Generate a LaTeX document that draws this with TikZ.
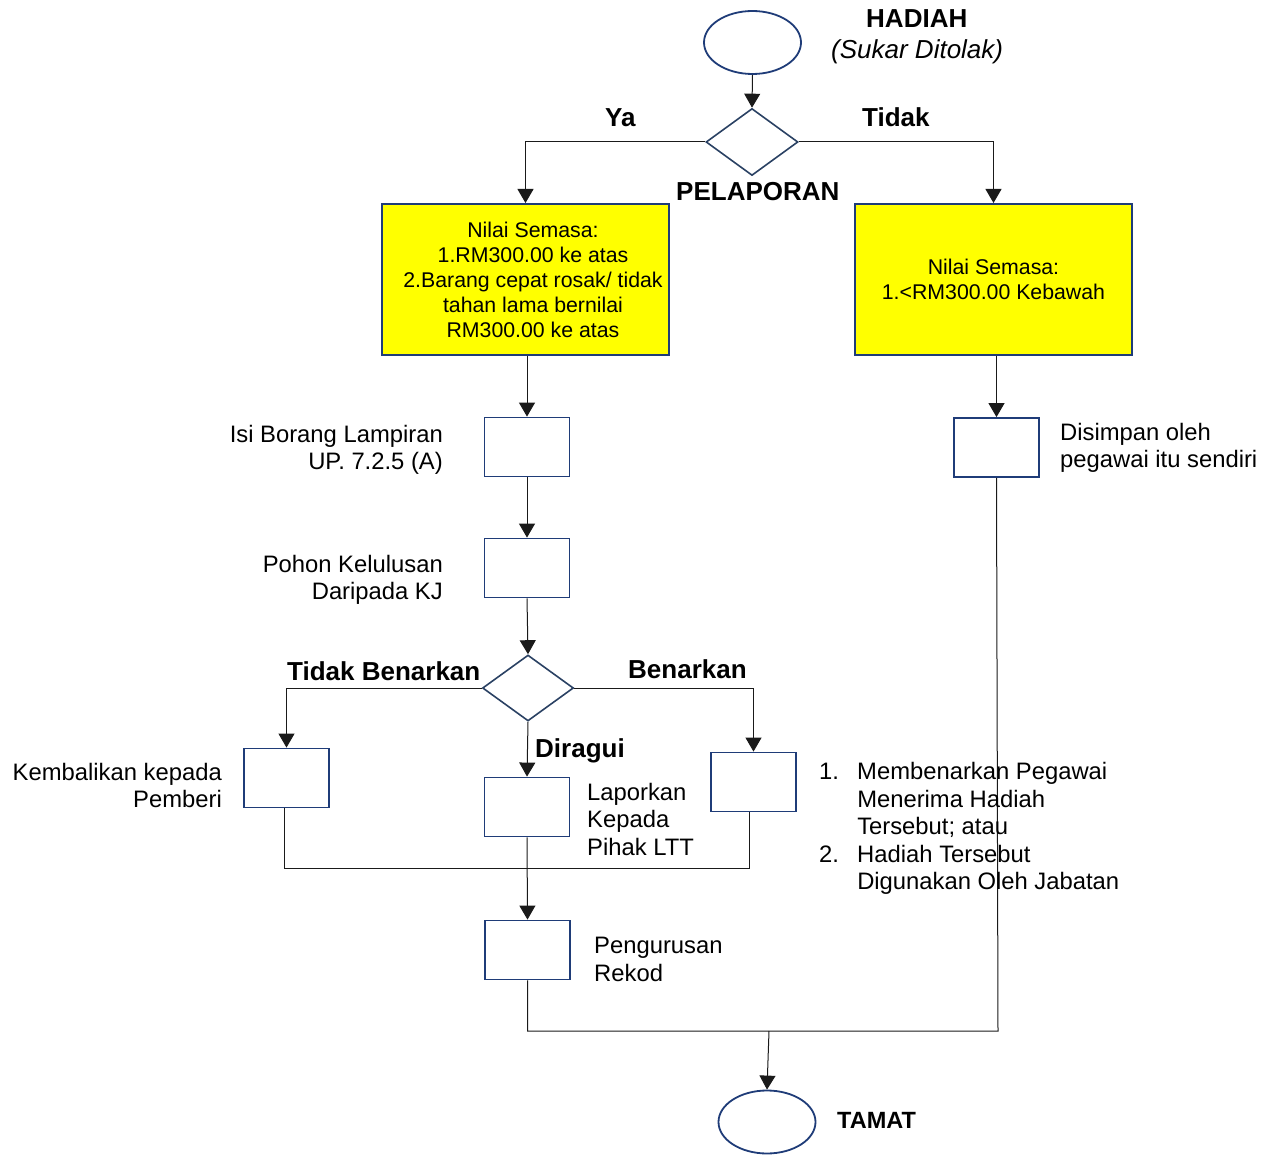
\documentclass[tikz,border=0pt]{standalone}
\usepackage{fontspec}
\setmainfont{Liberation Sans}
\usetikzlibrary{arrows.meta,shapes.geometric}
\definecolor{boxblue}{HTML}{1F3C78}
\definecolor{diablue}{HTML}{2A4163}
\definecolor{linegray}{HTML}{1A1A1A}
\definecolor{yel}{HTML}{FFFF00}
\begin{document}
\begin{tikzpicture}[x=1pt,y=-1pt,
  procbox/.style={draw=boxblue, line width=1.8pt, minimum width=85pt, minimum height=59pt, inner sep=0pt, fill=white},
  yellowbox/.style={draw=boxblue, line width=2pt, fill=yel, inner sep=0pt, align=center, font=\fontsize{21.3}{25}\selectfont},
  yeltext/.style={inner sep=0pt, align=center, font=\fontsize{21.3}{25}\selectfont},
  term/.style={ellipse, draw=boxblue, line width=1.8pt, minimum width=97pt, minimum height=63pt, inner sep=0pt},
  decision/.style={diamond, draw=diablue, line width=1.6pt, inner sep=0pt},
  conn/.style={draw=linegray, line width=1pt},
  arr/.style={conn, -{Triangle[length=14pt,width=16pt]}},
  lbl/.style={font=\fontsize{23.8}{27.5}\selectfont, inner sep=0pt},
  blbl/.style={font=\fontsize{26}{30}\selectfont\bfseries, inner sep=0pt},
  ilbl/.style={font=\fontsize{26}{30}\selectfont\itshape, inner sep=0pt}
]
\useasboundingbox (0,0) rectangle (1270,1155);

% shapes
\node[term] (start) at (752.5,42.5) {};
\node[decision, minimum width=92pt, minimum height=67pt] (d1) at (752,142) {};
\node[yellowbox, minimum width=287pt, minimum height=151pt] (y1) at (525.5,279.5) {};
\node[yeltext] (y1text) at (533,280)
  {Nilai Semasa:\\1.RM300.00 ke atas\\2.Barang cepat rosak/ tidak\\tahan lama bernilai\\RM300.00 ke atas};
\node[yellowbox, minimum width=277pt, minimum height=151pt] (y2) at (993.5,279.5)
  {Nilai Semasa:\\1.<RM300.00 Kebawah};
\node[procbox] (b1) at (527,447) {};
\node[procbox] (b2) at (527,568) {};
\node[decision, minimum width=91pt, minimum height=66pt] (d2) at (528,688) {};
\node[procbox] (b3) at (286.5,778) {};
\node[procbox] (b4) at (527,807) {};
\node[procbox] (b5) at (753.5,782) {};
\node[procbox] (b6) at (527.5,950) {};
\node[procbox] (b7) at (996.5,447.5) {};
\node[term] (end) at (767,1122) {};

% junction coordinates
\coordinate (m1) at (284,868);
\coordinate (m2) at (749,868);
\coordinate (j1) at (998,1031);
\coordinate (j2) at (769,1031);

% connectors
\draw[arr] (start.south) -- (d1.north);
\draw[arr] (d1.west) -| (y1.north);
\draw[arr] (d1.east) -| (y2.north);
\draw[arr] (b1.north |- y1.south) -- (b1.north);
\draw[arr] (b7.north |- y2.south) -- (b7.north);
\draw[arr] (b1.south) -- (b2.north);
\draw[arr] (b2.south) -- (d2.north);
\draw[arr] (d2.west) -| (b3.north);
\draw[arr] (d2.east) -| (b5.north);
\draw[arr] (d2.south) -- (b4.north);
\draw[conn] (b3.south -| m1) -- (m1) -- (m2) -- (b5.south -| m2);
\draw[arr] (b4.south) -- (b6.north);
\draw[conn] (b7.south) -- (j1) -- (b6.south |- j1) -- (b6.south);
\draw[arr] (j2) -- (end.north);

% labels
\node[blbl, anchor=base west] (lhad) at (866,28) {HADIAH};
\node[ilbl, anchor=base west] (lsuk) at (831,59) {(Sukar Ditolak)};
\node[blbl, anchor=base west] (lya) at (605,127) {Ya};
\node[blbl, anchor=base west] (ltid) at (862,127) {Tidak};
\node[blbl, anchor=base west] (lpel) at (676,201) {PELAPORAN};
\node[blbl, anchor=base west] (ltb) at (287,680) {Tidak Benarkan};
\node[blbl, anchor=base west] (lben) at (628,678) {Benarkan};
\node[blbl, anchor=base west] (ldir) at (535,757) {Diragui};
\node[font=\fontsize{23.5}{28}\selectfont\bfseries, inner sep=0pt, anchor=base west] (ltam) at (837,1128) {TAMAT};

\node[lbl, anchor=north east, align=right] (t1) at (443,425) {Isi Borang Lampiran\\UP. 7.2.5 (A)};
\node[lbl, anchor=north east, align=right] (t2) at (443,555) {Pohon Kelulusan\\Daripada KJ};
\node[lbl, anchor=north east, align=right] (t3) at (222,763) {Kembalikan kepada\\Pemberi};
\node[lbl, anchor=north west, align=left] (t4) at (587,783) {Laporkan\\Kepada\\Pihak LTT};
\node[lbl, anchor=north west, align=left] (t5) at (594,937) {Pengurusan\\Rekod};
\node[lbl, anchor=north west, align=left] (t6) at (1060,423) {Disimpan oleh\\pegawai itu sendiri};
\node[lbl, anchor=north west] (t7) at (819,760.25) {\begin{tabular}{@{}l@{\hspace{18.2pt}}l@{}}
1. & Membenarkan Pegawai\\
   & Menerima Hadiah\\
   & Tersebut; atau\\
2. & Hadiah Tersebut\\
   & Digunakan Oleh Jabatan
\end{tabular}};
\end{tikzpicture}
\end{document}
